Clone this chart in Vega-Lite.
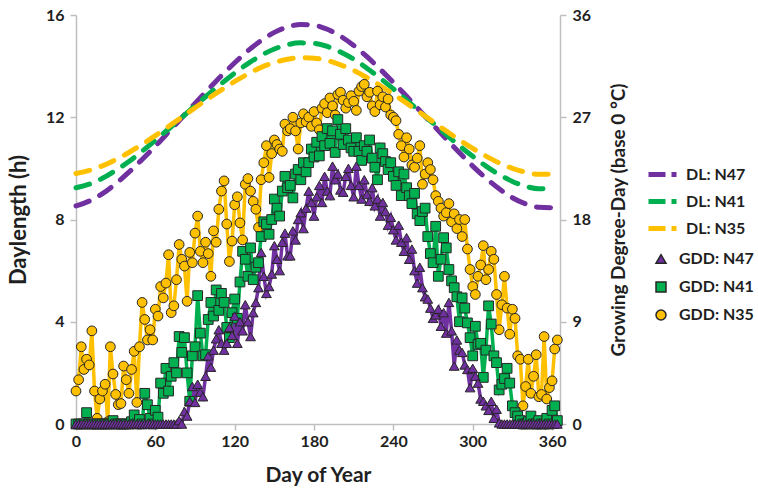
{
  "$schema": "https://vega.github.io/schema/vega-lite/v6.json",
  "width": 484,
  "height": 409,
  "autosize": {"type": "none"},
  "padding": {"left": 76, "top": 15, "right": 198, "bottom": 65},
  "background": "white",
  "config": {
    "font": "Lato",
    "view": {"stroke": null},
    "axis": {
      "grid": false,
      "domainColor": "#bfbfbf",
      "domainWidth": 1.5,
      "tickColor": "#bfbfbf",
      "tickWidth": 1.5,
      "tickSize": 6,
      "labelFont": "Lato",
      "labelFontSize": 16,
      "labelFontWeight": "bold",
      "labelColor": "#1f1f1f",
      "titleFont": "Lato",
      "titleFontWeight": "bold",
      "titleColor": "#1f1f1f"
    },
    "legend": {
      "labelFont": "Lato",
      "labelFontSize": 16,
      "labelFontWeight": "bold",
      "labelColor": "#1f1f1f"
    }
  },
  "datasets": {
    "dl": [
      {"d": 0, "DL_N47": 8.53, "DL_N41": 9.24, "DL_N35": 9.80},
      {"d": 10, "DL_N47": 8.72, "DL_N41": 9.38, "DL_N35": 9.92},
      {"d": 20, "DL_N47": 9.01, "DL_N41": 9.61, "DL_N35": 10.10},
      {"d": 30, "DL_N47": 9.40, "DL_N41": 9.92, "DL_N35": 10.34},
      {"d": 40, "DL_N47": 9.85, "DL_N41": 10.27, "DL_N35": 10.62},
      {"d": 50, "DL_N47": 10.35, "DL_N41": 10.67, "DL_N35": 10.94},
      {"d": 60, "DL_N47": 10.87, "DL_N41": 11.10, "DL_N35": 11.28},
      {"d": 70, "DL_N47": 11.42, "DL_N41": 11.54, "DL_N35": 11.64},
      {"d": 80, "DL_N47": 11.98, "DL_N41": 11.99, "DL_N35": 12.00},
      {"d": 90, "DL_N47": 12.54, "DL_N41": 12.45, "DL_N35": 12.37},
      {"d": 100, "DL_N47": 13.09, "DL_N41": 12.89, "DL_N35": 12.73},
      {"d": 110, "DL_N47": 13.63, "DL_N41": 13.32, "DL_N35": 13.07},
      {"d": 120, "DL_N47": 14.13, "DL_N41": 13.73, "DL_N35": 13.40},
      {"d": 130, "DL_N47": 14.60, "DL_N41": 14.10, "DL_N35": 13.69},
      {"d": 140, "DL_N47": 15.00, "DL_N41": 14.42, "DL_N35": 13.95},
      {"d": 150, "DL_N47": 15.32, "DL_N41": 14.67, "DL_N35": 14.14},
      {"d": 160, "DL_N47": 15.53, "DL_N41": 14.84, "DL_N35": 14.27},
      {"d": 170, "DL_N47": 15.63, "DL_N41": 14.91, "DL_N35": 14.33},
      {"d": 180, "DL_N47": 15.60, "DL_N41": 14.89, "DL_N35": 14.31},
      {"d": 190, "DL_N47": 15.44, "DL_N41": 14.77, "DL_N35": 14.22},
      {"d": 200, "DL_N47": 15.17, "DL_N41": 14.55, "DL_N35": 14.05},
      {"d": 210, "DL_N47": 14.81, "DL_N41": 14.27, "DL_N35": 13.83},
      {"d": 220, "DL_N47": 14.37, "DL_N41": 13.92, "DL_N35": 13.55},
      {"d": 230, "DL_N47": 13.88, "DL_N41": 13.53, "DL_N35": 13.24},
      {"d": 240, "DL_N47": 13.36, "DL_N41": 13.11, "DL_N35": 12.90},
      {"d": 250, "DL_N47": 12.82, "DL_N41": 12.67, "DL_N35": 12.55},
      {"d": 260, "DL_N47": 12.26, "DL_N41": 12.22, "DL_N35": 12.19},
      {"d": 270, "DL_N47": 11.70, "DL_N41": 11.77, "DL_N35": 11.82},
      {"d": 280, "DL_N47": 11.15, "DL_N41": 11.32, "DL_N35": 11.46},
      {"d": 290, "DL_N47": 10.61, "DL_N41": 10.88, "DL_N35": 11.11},
      {"d": 300, "DL_N47": 10.09, "DL_N41": 10.47, "DL_N35": 10.78},
      {"d": 310, "DL_N47": 9.62, "DL_N41": 10.09, "DL_N35": 10.48},
      {"d": 320, "DL_N47": 9.20, "DL_N41": 9.76, "DL_N35": 10.21},
      {"d": 330, "DL_N47": 8.85, "DL_N41": 9.49, "DL_N35": 10.00},
      {"d": 340, "DL_N47": 8.61, "DL_N41": 9.30, "DL_N35": 9.85},
      {"d": 350, "DL_N47": 8.48, "DL_N41": 9.20, "DL_N35": 9.77},
      {"d": 362, "DL_N47": 8.46, "DL_N41": 9.22, "DL_N35": 9.78}
    ],
    "gdd": [
      {"d": 0, "GDD_N47": 0, "GDD_N41": 0, "GDD_N35": 2.9},
      {"d": 2, "GDD_N47": 0, "GDD_N41": 0, "GDD_N35": 3.9},
      {"d": 4, "GDD_N47": 0, "GDD_N41": 0, "GDD_N35": 6.8},
      {"d": 6, "GDD_N47": 0, "GDD_N41": 0, "GDD_N35": 4.8},
      {"d": 8, "GDD_N47": 0, "GDD_N41": 1.0, "GDD_N35": 5.7},
      {"d": 10, "GDD_N47": 0, "GDD_N41": 0, "GDD_N35": 5.2},
      {"d": 12, "GDD_N47": 0, "GDD_N41": 0, "GDD_N35": 8.2},
      {"d": 14, "GDD_N47": 0, "GDD_N41": 0, "GDD_N35": 2.9},
      {"d": 16, "GDD_N47": 0, "GDD_N41": 0, "GDD_N35": 0.5},
      {"d": 18, "GDD_N47": 0, "GDD_N41": 0, "GDD_N35": 2.2},
      {"d": 20, "GDD_N47": 0, "GDD_N41": 0, "GDD_N35": 2.9},
      {"d": 22, "GDD_N47": 0, "GDD_N41": 0, "GDD_N35": 3.5},
      {"d": 24, "GDD_N47": 0, "GDD_N41": 0, "GDD_N35": 0.2},
      {"d": 26, "GDD_N47": 0, "GDD_N41": 0, "GDD_N35": 6.8},
      {"d": 28, "GDD_N47": 0, "GDD_N41": 0.3, "GDD_N35": 4.4},
      {"d": 30, "GDD_N47": 0, "GDD_N41": 0, "GDD_N35": 2.6},
      {"d": 32, "GDD_N47": 0, "GDD_N41": 0, "GDD_N35": 1.7},
      {"d": 34, "GDD_N47": 0, "GDD_N41": 0, "GDD_N35": 1.8},
      {"d": 36, "GDD_N47": 0, "GDD_N41": 0, "GDD_N35": 5.1},
      {"d": 38, "GDD_N47": 0, "GDD_N41": 0, "GDD_N35": 3.9},
      {"d": 40, "GDD_N47": 0, "GDD_N41": 0, "GDD_N35": 2.7},
      {"d": 42, "GDD_N47": 0, "GDD_N41": 0.2, "GDD_N35": 4.8},
      {"d": 44, "GDD_N47": 0, "GDD_N41": 0.8, "GDD_N35": 6.4},
      {"d": 46, "GDD_N47": 0, "GDD_N41": 0, "GDD_N35": 1.9},
      {"d": 48, "GDD_N47": 0, "GDD_N41": 0.4, "GDD_N35": 6.8},
      {"d": 50, "GDD_N47": 0, "GDD_N41": 0, "GDD_N35": 10.7},
      {"d": 52, "GDD_N47": 0, "GDD_N41": 2.7, "GDD_N35": 9.2},
      {"d": 54, "GDD_N47": 0, "GDD_N41": 1.7, "GDD_N35": 7.4},
      {"d": 56, "GDD_N47": 0, "GDD_N41": 0.5, "GDD_N35": 8.3},
      {"d": 58, "GDD_N47": 0, "GDD_N41": 0, "GDD_N35": 7.4},
      {"d": 60, "GDD_N47": 0, "GDD_N41": 1.2, "GDD_N35": 10.1},
      {"d": 62, "GDD_N47": 0, "GDD_N41": 0.6, "GDD_N35": 9.5},
      {"d": 64, "GDD_N47": 0, "GDD_N41": 3.6, "GDD_N35": 12.1},
      {"d": 66, "GDD_N47": 0, "GDD_N41": 2.7, "GDD_N35": 11.1},
      {"d": 68, "GDD_N47": 0, "GDD_N41": 4.9, "GDD_N35": 12.4},
      {"d": 70, "GDD_N47": 0, "GDD_N41": 2.9, "GDD_N35": 14.9},
      {"d": 72, "GDD_N47": 0, "GDD_N41": 4.2, "GDD_N35": 9.8},
      {"d": 74, "GDD_N47": 0, "GDD_N41": 5.4, "GDD_N35": 10.4},
      {"d": 76, "GDD_N47": 0, "GDD_N41": 4.5, "GDD_N35": 12.7},
      {"d": 78, "GDD_N47": 0.3, "GDD_N41": 7.7, "GDD_N35": 15.8},
      {"d": 80, "GDD_N47": 0, "GDD_N41": 6.3, "GDD_N35": 14.5},
      {"d": 82, "GDD_N47": 1.1, "GDD_N41": 7.6, "GDD_N35": 13.9},
      {"d": 84, "GDD_N47": 0.7, "GDD_N41": 4.5, "GDD_N35": 10.8},
      {"d": 86, "GDD_N47": 2.0, "GDD_N41": 2.0, "GDD_N35": 15.1},
      {"d": 88, "GDD_N47": 3.3, "GDD_N41": 6.0, "GDD_N35": 14.2},
      {"d": 90, "GDD_N47": 1.9, "GDD_N41": 6.8, "GDD_N35": 16.8},
      {"d": 92, "GDD_N47": 3.5, "GDD_N41": 11.3, "GDD_N35": 18.3},
      {"d": 94, "GDD_N47": 2.8, "GDD_N41": 8.0, "GDD_N35": 15.2},
      {"d": 96, "GDD_N47": 2.4, "GDD_N41": 6.0, "GDD_N35": 14.2},
      {"d": 98, "GDD_N47": 4.2, "GDD_N41": 6.1, "GDD_N35": 16.0},
      {"d": 100, "GDD_N47": 6.0, "GDD_N41": 9.2, "GDD_N35": 15.0},
      {"d": 102, "GDD_N47": 5.0, "GDD_N41": 10.7, "GDD_N35": 13.0},
      {"d": 104, "GDD_N47": 6.5, "GDD_N41": 9.5, "GDD_N35": 17.0},
      {"d": 106, "GDD_N47": 7.5, "GDD_N41": 11.8, "GDD_N35": 16.0},
      {"d": 108, "GDD_N47": 8.3, "GDD_N41": 10.0, "GDD_N35": 18.9},
      {"d": 110, "GDD_N47": 7.1, "GDD_N41": 11.5, "GDD_N35": 20.5},
      {"d": 112, "GDD_N47": 6.5, "GDD_N41": 10.7, "GDD_N35": 21.4},
      {"d": 114, "GDD_N47": 7.1, "GDD_N41": 8.5, "GDD_N35": 17.6},
      {"d": 116, "GDD_N47": 8.5, "GDD_N41": 7.6, "GDD_N35": 14.3},
      {"d": 118, "GDD_N47": 7.8, "GDD_N41": 9.8, "GDD_N35": 16.1},
      {"d": 120, "GDD_N47": 9.5, "GDD_N41": 11.0, "GDD_N35": 19.3},
      {"d": 122, "GDD_N47": 7.1, "GDD_N41": 9.3, "GDD_N35": 20.0},
      {"d": 124, "GDD_N47": 9.0, "GDD_N41": 12.5, "GDD_N35": 17.7},
      {"d": 126, "GDD_N47": 8.2, "GDD_N41": 15.2, "GDD_N35": 16.2},
      {"d": 128, "GDD_N47": 10.5, "GDD_N41": 14.5, "GDD_N35": 21.1},
      {"d": 130, "GDD_N47": 9.0, "GDD_N41": 13.0, "GDD_N35": 21.6},
      {"d": 132, "GDD_N47": 7.7, "GDD_N41": 15.5, "GDD_N35": 20.5},
      {"d": 134, "GDD_N47": 9.8, "GDD_N41": 12.7, "GDD_N35": 19.6},
      {"d": 136, "GDD_N47": 10.7, "GDD_N41": 13.8, "GDD_N35": 18.9},
      {"d": 138, "GDD_N47": 12.0, "GDD_N41": 14.2, "GDD_N35": 17.3},
      {"d": 140, "GDD_N47": 15.1, "GDD_N41": 16.5, "GDD_N35": 21.5},
      {"d": 142, "GDD_N47": 13.0, "GDD_N41": 17.8, "GDD_N35": 23.0},
      {"d": 144, "GDD_N47": 11.5, "GDD_N41": 17.6, "GDD_N35": 24.5},
      {"d": 146, "GDD_N47": 12.1, "GDD_N41": 16.7, "GDD_N35": 21.7},
      {"d": 148, "GDD_N47": 13.2, "GDD_N41": 18.0, "GDD_N35": 23.8},
      {"d": 150, "GDD_N47": 15.7, "GDD_N41": 19.8, "GDD_N35": 25.0},
      {"d": 152, "GDD_N47": 14.5, "GDD_N41": 19.0, "GDD_N35": 24.6},
      {"d": 154, "GDD_N47": 13.5, "GDD_N41": 18.3, "GDD_N35": 24.2},
      {"d": 156, "GDD_N47": 16.0, "GDD_N41": 20.5, "GDD_N35": 24.0},
      {"d": 158, "GDD_N47": 16.8, "GDD_N41": 21.8, "GDD_N35": 26.4},
      {"d": 160, "GDD_N47": 14.8, "GDD_N41": 20.8, "GDD_N35": 25.8},
      {"d": 162, "GDD_N47": 14.8, "GDD_N41": 21.0, "GDD_N35": 26.0},
      {"d": 164, "GDD_N47": 17.0, "GDD_N41": 19.9, "GDD_N35": 27.0},
      {"d": 166, "GDD_N47": 16.2, "GDD_N41": 22.0, "GDD_N35": 25.8},
      {"d": 168, "GDD_N47": 18.0, "GDD_N41": 22.4, "GDD_N35": 24.2},
      {"d": 170, "GDD_N47": 18.6, "GDD_N41": 21.5, "GDD_N35": 26.5},
      {"d": 172, "GDD_N47": 17.2, "GDD_N41": 23.0, "GDD_N35": 27.3},
      {"d": 174, "GDD_N47": 19.0, "GDD_N41": 22.2, "GDD_N35": 26.6},
      {"d": 176, "GDD_N47": 20.5, "GDD_N41": 23.0, "GDD_N35": 27.0},
      {"d": 178, "GDD_N47": 19.5, "GDD_N41": 24.2, "GDD_N35": 26.2},
      {"d": 180, "GDD_N47": 18.3, "GDD_N41": 23.5, "GDD_N35": 27.5},
      {"d": 182, "GDD_N47": 20.0, "GDD_N41": 24.8, "GDD_N35": 26.5},
      {"d": 184, "GDD_N47": 21.0, "GDD_N41": 23.6, "GDD_N35": 25.9},
      {"d": 186, "GDD_N47": 19.5, "GDD_N41": 25.3, "GDD_N35": 27.8},
      {"d": 188, "GDD_N47": 21.8, "GDD_N41": 24.5, "GDD_N35": 28.2},
      {"d": 190, "GDD_N47": 20.5, "GDD_N41": 26.0, "GDD_N35": 27.4},
      {"d": 192, "GDD_N47": 20.1, "GDD_N41": 24.7, "GDD_N35": 28.7},
      {"d": 194, "GDD_N47": 22.7, "GDD_N41": 25.8, "GDD_N35": 28.0},
      {"d": 196, "GDD_N47": 21.5, "GDD_N41": 23.9, "GDD_N35": 27.2},
      {"d": 198, "GDD_N47": 22.0, "GDD_N41": 26.8, "GDD_N35": 29.0},
      {"d": 200, "GDD_N47": 20.6, "GDD_N41": 25.5, "GDD_N35": 29.2},
      {"d": 202, "GDD_N47": 20.4, "GDD_N41": 24.6, "GDD_N35": 28.5},
      {"d": 204, "GDD_N47": 21.8, "GDD_N41": 26.0, "GDD_N35": 27.8},
      {"d": 206, "GDD_N47": 22.5, "GDD_N41": 25.0, "GDD_N35": 28.3},
      {"d": 208, "GDD_N47": 21.0, "GDD_N41": 24.3, "GDD_N35": 28.9},
      {"d": 210, "GDD_N47": 20.0, "GDD_N41": 24.0, "GDD_N35": 28.4},
      {"d": 212, "GDD_N47": 22.7, "GDD_N41": 25.2, "GDD_N35": 27.6},
      {"d": 214, "GDD_N47": 21.0, "GDD_N41": 24.0, "GDD_N35": 29.3},
      {"d": 216, "GDD_N47": 19.8, "GDD_N41": 23.2, "GDD_N35": 29.7},
      {"d": 218, "GDD_N47": 21.5, "GDD_N41": 24.5, "GDD_N35": 29.9},
      {"d": 220, "GDD_N47": 20.2, "GDD_N41": 24.0, "GDD_N35": 28.8},
      {"d": 222, "GDD_N47": 19.6, "GDD_N41": 25.0, "GDD_N35": 29.2},
      {"d": 224, "GDD_N47": 20.8, "GDD_N41": 23.4, "GDD_N35": 28.0},
      {"d": 226, "GDD_N47": 19.2, "GDD_N41": 22.6, "GDD_N35": 27.5},
      {"d": 228, "GDD_N47": 19.8, "GDD_N41": 21.5, "GDD_N35": 29.3},
      {"d": 230, "GDD_N47": 18.3, "GDD_N41": 24.3, "GDD_N35": 28.1},
      {"d": 232, "GDD_N47": 19.5, "GDD_N41": 23.8, "GDD_N35": 28.8},
      {"d": 234, "GDD_N47": 18.7, "GDD_N41": 23.1, "GDD_N35": 27.9},
      {"d": 236, "GDD_N47": 17.5, "GDD_N41": 22.4, "GDD_N35": 28.6},
      {"d": 238, "GDD_N47": 18.2, "GDD_N41": 23.0, "GDD_N35": 27.2},
      {"d": 240, "GDD_N47": 17.1, "GDD_N41": 21.8, "GDD_N35": 27.0},
      {"d": 242, "GDD_N47": 16.2, "GDD_N41": 21.0, "GDD_N35": 26.7},
      {"d": 244, "GDD_N47": 17.5, "GDD_N41": 22.2, "GDD_N35": 25.5},
      {"d": 246, "GDD_N47": 16.0, "GDD_N41": 20.1, "GDD_N35": 24.5},
      {"d": 248, "GDD_N47": 15.2, "GDD_N41": 22.0, "GDD_N35": 23.5},
      {"d": 250, "GDD_N47": 16.4, "GDD_N41": 20.8, "GDD_N35": 25.2},
      {"d": 252, "GDD_N47": 14.5, "GDD_N41": 20.1, "GDD_N35": 24.2},
      {"d": 254, "GDD_N47": 15.4, "GDD_N41": 19.4, "GDD_N35": 22.8},
      {"d": 256, "GDD_N47": 13.5, "GDD_N41": 20.3, "GDD_N35": 22.6},
      {"d": 258, "GDD_N47": 12.4, "GDD_N41": 18.5, "GDD_N35": 23.4},
      {"d": 260, "GDD_N47": 13.8, "GDD_N41": 17.9, "GDD_N35": 24.5},
      {"d": 262, "GDD_N47": 12.0, "GDD_N41": 18.7, "GDD_N35": 21.1},
      {"d": 264, "GDD_N47": 11.2, "GDD_N41": 19.0, "GDD_N35": 22.0},
      {"d": 266, "GDD_N47": 11.0, "GDD_N41": 16.5, "GDD_N35": 23.0},
      {"d": 268, "GDD_N47": 10.2, "GDD_N41": 15.0, "GDD_N35": 22.4},
      {"d": 270, "GDD_N47": 9.3, "GDD_N41": 14.2, "GDD_N35": 21.5},
      {"d": 272, "GDD_N47": 9.6, "GDD_N41": 17.4, "GDD_N35": 20.1},
      {"d": 274, "GDD_N47": 10.1, "GDD_N41": 13.0, "GDD_N35": 19.6},
      {"d": 276, "GDD_N47": 8.6, "GDD_N41": 14.5, "GDD_N35": 19.0},
      {"d": 278, "GDD_N47": 9.8, "GDD_N41": 16.4, "GDD_N35": 18.3},
      {"d": 280, "GDD_N47": 8.0, "GDD_N41": 15.5, "GDD_N35": 18.6},
      {"d": 282, "GDD_N47": 10.7, "GDD_N41": 13.6, "GDD_N35": 19.4},
      {"d": 284, "GDD_N47": 8.2, "GDD_N41": 12.6, "GDD_N35": 17.8},
      {"d": 286, "GDD_N47": 5.1, "GDD_N41": 12.0, "GDD_N35": 18.5},
      {"d": 288, "GDD_N47": 7.4, "GDD_N41": 11.2, "GDD_N35": 17.2},
      {"d": 290, "GDD_N47": 6.5, "GDD_N41": 9.0, "GDD_N35": 18.0},
      {"d": 292, "GDD_N47": 6.3, "GDD_N41": 11.1, "GDD_N35": 16.5},
      {"d": 294, "GDD_N47": 5.2, "GDD_N41": 10.2, "GDD_N35": 18.0},
      {"d": 296, "GDD_N47": 4.8, "GDD_N41": 8.9, "GDD_N35": 15.4},
      {"d": 298, "GDD_N47": 3.2, "GDD_N41": 7.6, "GDD_N35": 13.6},
      {"d": 300, "GDD_N47": 4.9, "GDD_N41": 6.0, "GDD_N35": 12.1},
      {"d": 302, "GDD_N47": 4.2, "GDD_N41": 8.6, "GDD_N35": 11.4},
      {"d": 304, "GDD_N47": 3.6, "GDD_N41": 7.0, "GDD_N35": 13.0},
      {"d": 306, "GDD_N47": 2.2, "GDD_N41": 7.1, "GDD_N35": 14.0},
      {"d": 308, "GDD_N47": 2.0, "GDD_N41": 4.1, "GDD_N35": 15.7},
      {"d": 310, "GDD_N47": 1.6, "GDD_N41": 6.5, "GDD_N35": 12.7},
      {"d": 312, "GDD_N47": 1.2, "GDD_N41": 10.4, "GDD_N35": 13.6},
      {"d": 314, "GDD_N47": 2.0, "GDD_N41": 8.8, "GDD_N35": 15.2},
      {"d": 316, "GDD_N47": 0.5, "GDD_N41": 6.0, "GDD_N35": 14.5},
      {"d": 318, "GDD_N47": 1.3, "GDD_N41": 5.4, "GDD_N35": 11.4},
      {"d": 320, "GDD_N47": 0.1, "GDD_N41": 3.0, "GDD_N35": 8.3},
      {"d": 322, "GDD_N47": 0, "GDD_N41": 3.5, "GDD_N35": 10.5},
      {"d": 324, "GDD_N47": 0, "GDD_N41": 4.0, "GDD_N35": 13.0},
      {"d": 326, "GDD_N47": 0, "GDD_N41": 4.9, "GDD_N35": 10.2},
      {"d": 328, "GDD_N47": 0, "GDD_N41": 3.6, "GDD_N35": 7.9},
      {"d": 330, "GDD_N47": 0, "GDD_N41": 1.6, "GDD_N35": 10.1},
      {"d": 332, "GDD_N47": 0, "GDD_N41": 1.0, "GDD_N35": 9.3},
      {"d": 334, "GDD_N47": 0, "GDD_N41": 0.7, "GDD_N35": 6.0},
      {"d": 336, "GDD_N47": 0, "GDD_N41": 0.3, "GDD_N35": 5.7},
      {"d": 338, "GDD_N47": 0, "GDD_N41": 0, "GDD_N35": 1.6},
      {"d": 340, "GDD_N47": 0, "GDD_N41": 0, "GDD_N35": 3.3},
      {"d": 342, "GDD_N47": 0, "GDD_N41": 0.2, "GDD_N35": 5.7},
      {"d": 344, "GDD_N47": 0, "GDD_N41": 0.7, "GDD_N35": 2.7},
      {"d": 346, "GDD_N47": 0, "GDD_N41": 0, "GDD_N35": 4.2},
      {"d": 348, "GDD_N47": 0, "GDD_N41": 0, "GDD_N35": 6.1},
      {"d": 350, "GDD_N47": 0, "GDD_N41": 0.3, "GDD_N35": 2.4},
      {"d": 352, "GDD_N47": 0, "GDD_N41": 0, "GDD_N35": 2.6},
      {"d": 354, "GDD_N47": 0, "GDD_N41": 0, "GDD_N35": 7.7},
      {"d": 356, "GDD_N47": 0, "GDD_N41": 0.5, "GDD_N35": 2.2},
      {"d": 358, "GDD_N47": 0, "GDD_N41": 0, "GDD_N35": 3.2},
      {"d": 360, "GDD_N47": 0, "GDD_N41": 1.2, "GDD_N35": 3.8},
      {"d": 362, "GDD_N47": 0, "GDD_N41": 1.6, "GDD_N35": 6.6},
      {"d": 364, "GDD_N47": 0, "GDD_N41": 0.3, "GDD_N35": 7.4}
    ]
  },
  "layer": [
    {
      "data": {"name": "dl"},
      "transform": [{"fold": ["DL_N47", "DL_N41", "DL_N35"], "as": ["series", "value"]}],
      "mark": {"type": "line", "strokeWidth": 5, "strokeDash": [14, 12], "strokeCap": "round", "interpolate": "monotone"},
      "encoding": {
        "x": {
          "field": "d", "type": "quantitative",
          "scale": {"domain": [0, 366], "nice": false, "zero": false},
          "axis": {"orient": "bottom", "values": [0, 60, 120, 180, 240, 300, 360], "labelFlush": false, "labelPadding": 3, "title": "Day of Year", "titleFontSize": 21, "titlePadding": 15}
        },
        "y": {
          "field": "value", "type": "quantitative",
          "scale": {"domain": [0, 16], "nice": false},
          "axis": {"orient": "left", "values": [0, 4, 8, 12, 16], "labelPadding": 6, "title": "Daylength (h)", "titleFontSize": 22, "titlePadding": 15}
        },
        "color": {
          "field": "series", "type": "nominal",
          "scale": {"domain": ["DL_N47", "DL_N41", "DL_N35"], "range": ["#7030A0", "#00B050", "#FFC000"]},
          "legend": {
            "orient": "none", "legendX": 570, "legendY": 143, "title": null, "padding": 0,
            "symbolType": "stroke", "symbolSize": 784, "symbolStrokeWidth": 5, "symbolDash": [17, 6, 5, 20],
            "rowPadding": 0, "labelOffset": 7,
            "labelExpr": "replace(datum.label, '_', ': ')"
          }
        }
      }
    },
    {
      "data": {"name": "gdd"},
      "transform": [{"fold": ["GDD_N47", "GDD_N41", "GDD_N35"], "as": ["series", "value"]}],
      "layer": [
        {
          "mark": {"type": "line", "strokeWidth": 3.5},
          "encoding": {
            "x": {"field": "d", "type": "quantitative"},
            "y": {
              "field": "value", "type": "quantitative",
              "scale": {"domain": [0, 36], "nice": false},
              "axis": {"orient": "right", "values": [0, 9, 18, 27, 36], "labelPadding": 6, "title": "Growing Degree-Day (base 0 °C)", "titleFontSize": 19, "titleAngle": 270, "titlePadding": 38}
            },
            "stroke": {
              "field": "series", "type": "nominal",
              "scale": {"domain": ["GDD_N47", "GDD_N41", "GDD_N35"], "range": ["#7030A0", "#00B050", "#FFC000"]},
              "legend": null
            }
          }
        },
        {
          "mark": {"type": "point", "filled": true, "stroke": "#262626", "strokeWidth": 1, "size": 95, "opacity": 1},
          "encoding": {
            "x": {"field": "d", "type": "quantitative"},
            "y": {
              "field": "value", "type": "quantitative",
              "scale": {"domain": [0, 36], "nice": false},
              "axis": {"orient": "right", "values": [0, 9, 18, 27, 36], "labelPadding": 6, "title": "Growing Degree-Day (base 0 °C)", "titleFontSize": 19, "titleAngle": 270, "titlePadding": 38}
            },
            "color": {
              "field": "series", "type": "nominal",
              "scale": {"domain": ["GDD_N47", "GDD_N41", "GDD_N35"], "range": ["#7030A0", "#00B050", "#FFC000"]},
              "legend": {
                "orient": "none", "legendX": 577, "legendY": 236, "title": null, "padding": 0,
                "rowPadding": 12, "labelOffset": 10,
                "labelExpr": "replace(datum.label, '_', ': ')"
              }
            },
            "shape": {
              "field": "series", "type": "nominal",
              "scale": {"domain": ["GDD_N47", "GDD_N41", "GDD_N35"], "range": ["triangle-up", "square", "circle"]},
              "legend": {
                "orient": "none", "legendX": 577, "legendY": 236, "title": null, "padding": 0,
                "rowPadding": 12, "labelOffset": 10,
                "labelExpr": "replace(datum.label, '_', ': ')"
              }
            },
            "order": {"field": "series", "type": "nominal", "sort": "ascending"}
          }
        }
      ]
    }
  ],
  "resolve": {
    "scale": {"y": "independent", "color": "independent", "shape": "independent"},
    "legend": {"color": "independent", "shape": "independent"}
  }
}
